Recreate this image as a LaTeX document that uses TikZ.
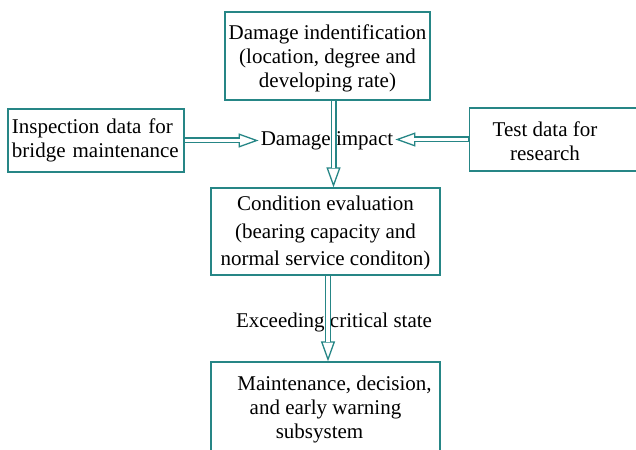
\documentclass[tikz,border=0pt]{standalone}
\usepackage{fontspec}
\setmainfont{Liberation Serif}
\usetikzlibrary{arrows.meta}
\definecolor{boxteal}{RGB}{38,134,134}
\begin{document}
\begin{tikzpicture}[x=1pt,y=1pt,
  every node/.style={font=\fontsize{21}{24}\selectfont, text=black},
  box/.style={draw=boxteal, line width=1.3pt, align=center, inner sep=0pt},
  dblarrow/.style={draw=boxteal, line width=6pt,
    -{Triangle[open, length=20pt, width=14pt, line width=1.3pt]},
    postaction={draw=white, line width=3.4pt, shorten <=0.8pt, shorten >=19pt, -}}]
\clip (0,0) rectangle (636,-449);
\node[box, minimum width=205, minimum height=88] (damage) at (327.5,-56) {\rule{0pt}{20pt}Damage indentification\\(location, degree and\\developing rate)};
\node[box, align=left, text width=168, minimum width=176, minimum height=63] (insp) at (96,-140.5) {Inspection data for\\bridge maintenance};
\node[box, anchor=west, minimum width=180, minimum height=63] (test) at (469,-139.5) {};
\node[align=center] (testtxt) at (545,-141) {Test data for\\research};
\node[inner sep=2pt] (impact) at (327,-141) {Damage impact};
\node[box, minimum width=229, minimum height=87, font=\fontsize{21}{27.5}\selectfont] (cond) at (325.5,-231.5) {\rule{0pt}{18pt}Condition evaluation\\(bearing capacity and\\normal service conditon)};
\node (exceed) at (334,-322) {Exceeding critical state};
\node[box, minimum width=229, minimum height=94] (maint) at (325.5,-409) {\hspace*{18pt}Maintenance, decision,\\and early warning\\subsystem\hspace*{12pt}};
\draw[dblarrow] (insp.east) -- (insp.east -| impact.west);
\draw[dblarrow] (test.west) -- (test.west -| impact.east);
\draw[dblarrow] ([xshift=6pt]damage.south) -- ([xshift=6pt]damage.south |- cond.north);
\draw[dblarrow] ([xshift=2.5pt]cond.south) -- ([xshift=2.5pt]cond.south |- maint.north);
\end{tikzpicture}
\end{document}
